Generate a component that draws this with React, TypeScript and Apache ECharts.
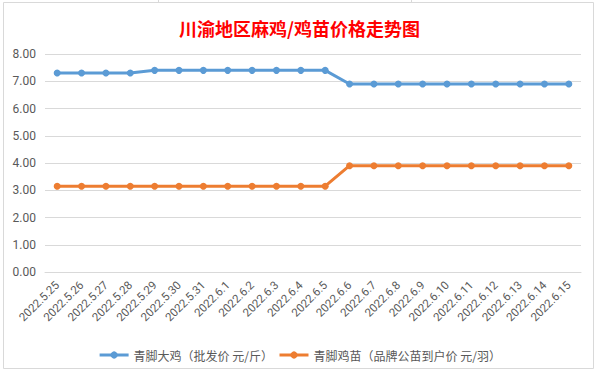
import React, { useEffect, useRef } from "react";
import * as echarts from "echarts";

const categories = [
  "2022.5.25", "2022.5.26", "2022.5.27", "2022.5.28", "2022.5.29", "2022.5.30", "2022.5.31",
  "2022.6.1", "2022.6.2", "2022.6.3", "2022.6.4", "2022.6.5", "2022.6.6", "2022.6.7",
  "2022.6.8", "2022.6.9", "2022.6.10", "2022.6.11", "2022.6.12", "2022.6.13", "2022.6.14", "2022.6.15",
];
const bigChicken = [7.3, 7.3, 7.3, 7.3, 7.4, 7.4, 7.4, 7.4, 7.4, 7.4, 7.4, 7.4, 6.9, 6.9, 6.9, 6.9, 6.9, 6.9, 6.9, 6.9, 6.9, 6.9];
const chick = [3.15, 3.15, 3.15, 3.15, 3.15, 3.15, 3.15, 3.15, 3.15, 3.15, 3.15, 3.15, 3.9, 3.9, 3.9, 3.9, 3.9, 3.9, 3.9, 3.9, 3.9, 3.9];
const seriesNames = ["青脚大鸡（批发价 元/斤）", "青脚鸡苗（品牌公苗到户价 元/羽）"];
const titleText = "川渝地区麻鸡/鸡苗价格走势图";

export default function App() {
  const ref = useRef<HTMLDivElement>(null);
  useEffect(() => {
    document.body.style.margin = "0";
    const chart = echarts.init(ref.current!, null, { renderer: "svg" });
    const font = "Roboto, 'Noto Sans CJK SC', sans-serif";
    chart.setOption({
      animation: false,
      backgroundColor: "#ffffff",
      title: {
        text: titleText,
        left: "center",
        top: 14,
        textStyle: { color: "#ff0000", fontSize: 18, fontWeight: "bold", fontFamily: "'Noto Sans CJK SC', serif" },
      },
      graphic: [
        { type: "rect", z: -1, shape: { x: 3.5, y: 2.5, width: 590, height: 366 }, style: { fill: "none", stroke: "#D9D9D9", lineWidth: 1 } },
        { type: "line", shape: { x1: 158.5, y1: 0, x2: 158.5, y2: 2 }, style: { stroke: "#D9D9D9", lineWidth: 1 } },
        { type: "line", shape: { x1: 411.5, y1: 0, x2: 411.5, y2: 2 }, style: { stroke: "#D9D9D9", lineWidth: 1 } },
      ],
      grid: { left: 45, right: 18, top: 54, bottom: 100 },
      legend: {
        top: 344,
        left: "center",
        itemWidth: 29,
        itemHeight: 9,
        itemGap: 5,
        lineStyle: { width: 3 },
        textStyle: { color: "#595959", fontSize: 12, fontFamily: "'Noto Sans CJK SC', sans-serif" },
        data: seriesNames,
      },
      xAxis: {
        type: "category",
        data: categories,
        boundaryGap: true,
        axisLine: { lineStyle: { color: "#D9D9D9" } },
        axisTick: { show: false },
        axisLabel: { interval: 0, rotate: 45, color: "#595959", fontSize: 11.5, fontFamily: font, margin: 11 },
      },
      yAxis: {
        type: "value",
        min: 0,
        max: 8,
        interval: 1,
        axisLine: { show: false },
        axisTick: { show: false },
        splitLine: { lineStyle: { color: "#D9D9D9" } },
        axisLabel: { color: "#595959", fontSize: 12, fontFamily: font, margin: 9, formatter: (v: number) => v.toFixed(2) },
      },
      series: [
        {
          name: seriesNames[0],
          type: "line",
          data: bigChicken,
          symbol: "circle",
          symbolSize: 7,
          color: "#5B9BD5",
          lineStyle: { width: 3, color: "#5B9BD5" },
        },
        {
          name: seriesNames[1],
          type: "line",
          data: chick,
          symbol: "circle",
          symbolSize: 7,
          color: "#ED7D31",
          lineStyle: { width: 3, color: "#ED7D31" },
        },
      ],
    });
    return () => chart.dispose();
  }, []);
  return <div ref={ref} style={{ width: 599, height: 372, position: "absolute", left: 0, top: 0 }} />;
}
